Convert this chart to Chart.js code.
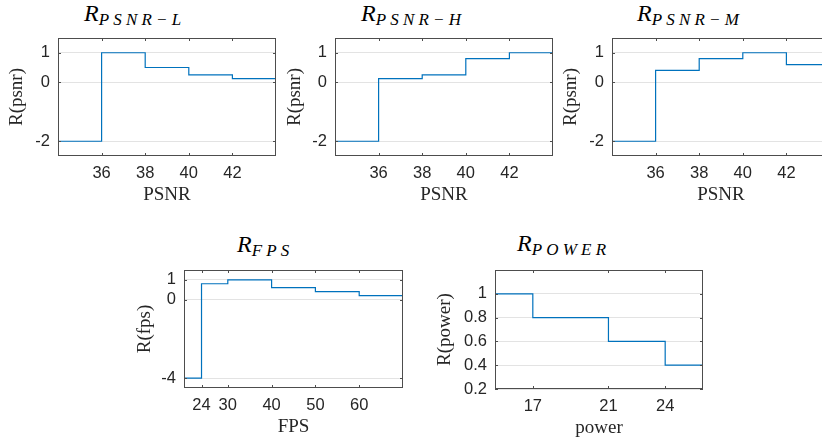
<!DOCTYPE html>
<html>
<head>
<meta charset="utf-8">
<script src="https://cdn.jsdelivr.net/npm/chart.js@4.4.0/dist/chart.umd.min.js"></script>
<style>
  html, body { margin: 0; padding: 0; background: #fff; }
  body { width: 822px; height: 443px; position: relative; overflow: hidden; }
  canvas { position: absolute; }
  .titulo {
    position: absolute; white-space: nowrap; color: #000;
    font-family: "Liberation Serif", "Times New Roman", serif;
    font-style: italic; font-size: 24px; line-height: 1;
  }
  .titulo span { font-size: 17px; letter-spacing: 4.2px; vertical-align: -4px; }
</style>
</head>
<body>
<div class="titulo" style="left:84px; top:1px;">R<span>PSNR−L</span></div>
<div class="titulo" style="left:361px; top:1px;">R<span>PSNR−H</span></div>
<div class="titulo" style="left:637px; top:1px;">R<span>PSNR−M</span></div>
<div class="titulo" style="left:237px; top:232px;">R<span>FPS</span></div>
<div class="titulo" style="left:517px; top:231px;">R<span>POWER</span></div>

<canvas id="g-psnr-l"></canvas>
<canvas id="g-psnr-h"></canvas>
<canvas id="g-psnr-m"></canvas>
<canvas id="g-fps"></canvas>
<canvas id="g-power"></canvas>

<script>
// --- datos ---
const psnrEdges = [34, 36, 38, 40, 42, 44];
const rPsnrL = [-2, 1, 0.5, 0.25, 0.125];
const rPsnrH = [-2, 0.125, 0.25, 0.8, 1];
const rPsnrM = [-2, 0.4, 0.8, 1, 0.6];
const psnrTicks = [36, 38, 40, 42];
const psnrYTicks = [-2, 0, 1];

const fpsEdges = [20, 24, 30, 40, 50, 60, 70];
const rFps = [-4, 0.8, 1, 0.6, 0.4, 0.2];
const fpsTicks = [24, 30, 40, 50, 60];
const fpsYTicks = [-4, 0, 1];

const powerEdges = [15, 17, 21, 24, 26];
const rPower = [1, 0.8, 0.6, 0.4];
const powerTicks = [17, 21, 24];
const powerYTicks = [0.2, 0.4, 0.6, 0.8, 1];

const AZUL = '#0072BD';
const GRIS = '#262626';
const SANS = '"Liberation Sans", Arial, Helvetica, sans-serif';
const SERIF = '"Liberation Serif", "Times New Roman", serif';

// caja completa y marcas hacia dentro, estilo matlab
const cajaPlugin = {
    id: 'caja',
    afterDraw(chart) {
        const { ctx, chartArea: a, scales } = chart;
        const t = 3;
        ctx.save();
        ctx.strokeStyle = '#4d4d4d';
        ctx.lineWidth = 1;
        ctx.beginPath();
        scales.x.ticks.forEach(tk => {
            const px = Math.round(scales.x.getPixelForValue(tk.value)) + 0.5;
            ctx.moveTo(px, a.bottom); ctx.lineTo(px, a.bottom - t);
            ctx.moveTo(px, a.top); ctx.lineTo(px, a.top + t);
        });
        scales.y.ticks.forEach(tk => {
            const py = Math.round(scales.y.getPixelForValue(tk.value)) + 0.5;
            ctx.moveTo(a.left, py); ctx.lineTo(a.left + t, py);
            ctx.moveTo(a.right, py); ctx.lineTo(a.right - t, py);
        });
        ctx.stroke();
        ctx.strokeRect(Math.round(a.left) + 0.5, Math.round(a.top) + 0.5,
            Math.round(a.right - a.left) - 1, Math.round(a.bottom - a.top) - 1);
        ctx.restore();
    }
};

function escalones(edges, vals) {
    return edges.map((x, i) => ({ x: x, y: vals[Math.min(i, vals.length - 1)] }));
}

function crearGrafica(id, cfg) {
    const L = cfg.ejeY, T = 8, R = 6, B = 54;
    const canvas = document.getElementById(id);
    const w = L + cfg.w + R, h = T + cfg.h + B;
    canvas.width = w; canvas.height = h;
    canvas.style.left = (cfg.left - L) + 'px';
    canvas.style.top = (cfg.top - T) + 'px';
    canvas.style.width = w + 'px';
    canvas.style.height = h + 'px';

    return new Chart(canvas.getContext('2d'), {
        type: 'line',
        data: {
            datasets: [{
                data: escalones(cfg.edges, cfg.vals),
                borderColor: AZUL,
                borderWidth: 1.2,
                pointRadius: 0,
                stepped: true,
                fill: false
            }]
        },
        options: {
            responsive: false,
            animation: false,
            layout: { padding: { left: 0, top: T, right: R, bottom: 0 } },
            plugins: { legend: { display: false }, tooltip: { enabled: false } },
            scales: {
                x: {
                    type: 'linear',
                    min: cfg.xlim[0], max: cfg.xlim[1],
                    afterBuildTicks: s => { s.ticks = cfg.xticks.map(v => ({ value: v })); },
                    afterFit: s => { s.height = B; s.paddingLeft = 0; s.paddingRight = 0; },
                    grid: { display: false, drawTicks: false },
                    border: { display: false },
                    ticks: { color: GRIS, padding: 8, maxRotation: 0, autoSkip: false,
                        font: { family: SANS, size: 16.5 }, callback: v => String(v) },
                    title: { display: true, text: cfg.xTitulo, color: GRIS,
                        font: { family: SERIF, size: 19 }, padding: { top: 0, bottom: 3.6 } }
                },
                y: {
                    min: cfg.ylim[0], max: cfg.ylim[1],
                    afterBuildTicks: s => { s.ticks = cfg.yticks.map(v => ({ value: v })); },
                    afterFit: s => { s.width = L; s.paddingTop = 0; s.paddingBottom = 0; },
                    grid: { color: '#e3e3e3', drawTicks: false, lineWidth: 1 },
                    border: { display: false },
                    ticks: { color: GRIS, padding: 8, autoSkip: false,
                        font: { family: SANS, size: 16.5 }, callback: v => String(v) },
                    title: { display: true, text: cfg.yTitulo, color: GRIS,
                        font: { family: SERIF, size: 19 },
                        padding: { top: L - cfg.yGap - 11.4, bottom: 0 } }
                }
            }
        },
        plugins: [cajaPlugin]
    });
}

document.addEventListener('DOMContentLoaded', () => {
    const psnrBase = { edges: psnrEdges, xlim: [34, 44], ylim: [-2.5, 1.5],
        xticks: psnrTicks, yticks: psnrYTicks, xTitulo: 'PSNR', yTitulo: 'R(psnr)',
        ejeY: 58, top: 38, w: 218, h: 118 };

    crearGrafica('g-psnr-l', { ...psnrBase, vals: rPsnrL, left: 58, yGap: 41 });
    crearGrafica('g-psnr-h', { ...psnrBase, vals: rPsnrH, left: 335, yGap: 40 });
    crearGrafica('g-psnr-m', { ...psnrBase, vals: rPsnrM, left: 612, yGap: 40.5 });

    crearGrafica('g-fps', { edges: fpsEdges, vals: rFps, xlim: [20, 70], ylim: [-4.5, 1.5],
        xticks: fpsTicks, yticks: fpsYTicks, xTitulo: 'FPS', yTitulo: 'R(fps)',
        ejeY: 58, left: 184, top: 270, w: 219, h: 118, yGap: 39 });

    crearGrafica('g-power', { edges: powerEdges, vals: rPower, xlim: [15, 26], ylim: [0.2, 1.2],
        xticks: powerTicks, yticks: powerYTicks, xTitulo: 'power', yTitulo: 'R(power)',
        ejeY: 70, left: 495, top: 270, w: 208, h: 119, yGap: 50 });
});
</script>
</body>
</html>
